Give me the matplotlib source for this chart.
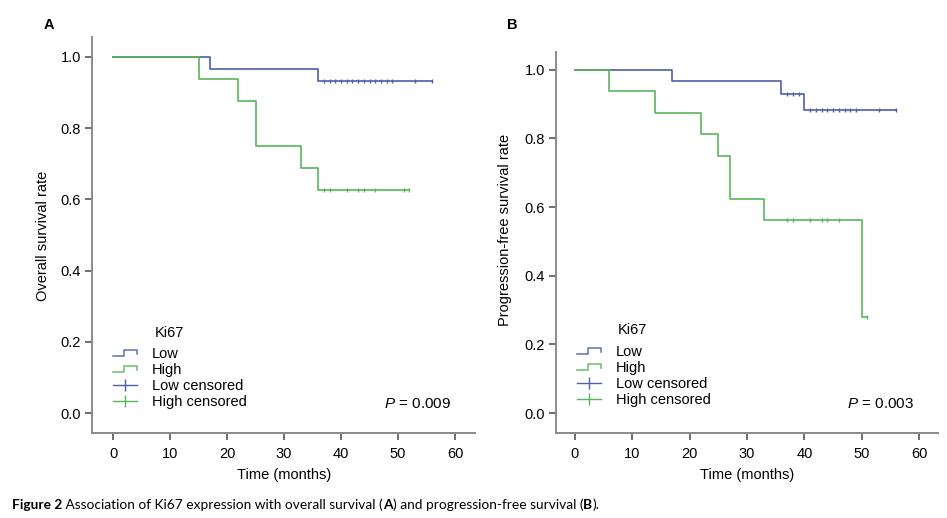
import numpy as np
import matplotlib
matplotlib.use("Agg")
import matplotlib.pyplot as plt
from matplotlib.lines import Line2D
from matplotlib.legend_handler import HandlerBase

plt.rcParams['font.family'] = ['Liberation Sans', 'DejaVu Sans']
plt.rcParams['mathtext.fontset'] = 'custom'
plt.rcParams['mathtext.it'] = 'Liberation Sans:italic'
plt.rcParams['mathtext.rm'] = 'Liberation Sans'

# ---------------- data ----------------
# Panel A: overall survival
a_low_t = [0, 17, 36, 56]
a_low_s = [1.0, 0.9667, 0.9333, 0.9333]
a_low_cens = [37, 38, 39, 40, 41, 42, 43, 44, 45, 46, 47, 48, 49, 53, 56]
a_high_t = [0, 15, 22, 25, 33, 36, 52]
a_high_s = [1.0, 0.9375, 0.875, 0.75, 0.6875, 0.625, 0.625]
a_high_cens = [37, 38, 41, 43, 44, 46, 51, 52]

# Panel B: progression-free survival
b_low_t = [0, 17, 36, 40, 56]
b_low_s = [1.0, 0.9667, 0.93, 0.882, 0.882]
b_low_cens = [37, 38, 39, 41, 42, 43, 44, 45, 46, 47, 48, 49, 53, 56]
b_high_t = [0, 6, 14, 22, 25, 27, 33, 50, 51]
b_high_s = [1.0, 0.9375, 0.875, 0.8125, 0.75, 0.625, 0.5625, 0.28125, 0.28125]
b_high_cens = [37, 38, 41, 43, 44, 46, 51]

x_ticks = [0, 10, 20, 30, 40, 50, 60]
y_ticks = [0.0, 0.2, 0.4, 0.6, 0.8, 1.0]
legend_labels = ["Low", "High", "Low censored", "High censored"]
p_texts = ["0.009", "0.003"]
ylabels = ["Overall survival rate", "Progression-free survival rate"]
panel_letters = ["A", "B"]

BLUE = "#4f5fab"
GREEN = "#5ab55a"
SPINE = "#8a8a8a"

W, H = 947, 518
fig = plt.figure(figsize=(W / 100, H / 100), dpi=100)


def px_axes(x0, x1, y0, y1):
    return fig.add_axes([x0 / W, 1 - y1 / H, (x1 - x0) / W, (y1 - y0) / H])


class StepHandler(HandlerBase):
    def create_artists(self, legend, orig_handle, xdescent, ydescent,
                       width, height, fontsize, trans):
        x = np.array([0, 0.45, 0.45, 1.0, 1.0]) * width - xdescent
        y = np.array([0.2, 0.2, 0.75, 0.75, 0.4]) * height - ydescent
        ln = Line2D(x, y, color=orig_handle.get_color(), lw=1.1,
                    transform=trans, alpha=0.9)
        return [ln]


def surv_at(t_list, s_list, times):
    t = np.asarray(t_list)
    s = np.asarray(s_list)
    idx = np.searchsorted(t, times, side='right') - 1
    return s[idx]


def draw_panel(ax, low_t, low_s, low_c, high_t, high_s, high_c,
               xlim, ylim, leg_anchor, title_pos, p_pos, ptxt):
    ax.step(low_t, low_s, where='post', color=BLUE, lw=1.2)
    ax.step(high_t, high_s, where='post', color=GREEN, lw=1.2)
    ax.plot(low_c, surv_at(low_t, low_s, low_c), ls='none', marker='|',
            ms=3.5, mew=1.0, color=BLUE)
    ax.plot(high_c, surv_at(high_t, high_s, high_c), ls='none', marker='|',
            ms=3.5, mew=1.0, color=GREEN)
    ax.set_xlim(*xlim)
    ax.set_ylim(*ylim)
    ax.set_xticks(x_ticks)
    ax.set_yticks(y_ticks)
    ax.set_yticklabels([f"{v:.1f}" for v in y_ticks])
    for s in ['top', 'right']:
        ax.spines[s].set_visible(False)
    for s in ['left', 'bottom']:
        ax.spines[s].set_color(SPINE)
        ax.spines[s].set_linewidth(1.4)
    ax.tick_params(axis='both', direction='out', length=5, width=1.2,
                   color='#555555', labelsize=10.5, labelcolor='black')
    ax.tick_params(axis='x', pad=5)
    ax.tick_params(axis='y', pad=3)

    h_low = Line2D([0], [0], color=BLUE)
    h_high = Line2D([0], [0], color=GREEN)
    h_lc = Line2D([0], [0], color=BLUE, marker='|', ms=9, mew=1.0, lw=1.0)
    h_hc = Line2D([0], [0], color=GREEN, marker='|', ms=9, mew=1.0, lw=1.0)
    ax.legend([h_low, h_high, h_lc, h_hc], legend_labels,
              handler_map={h_low: StepHandler(), h_high: StepHandler()},
              loc='upper left', bbox_to_anchor=leg_anchor,
              frameon=False, fontsize=10.5, borderpad=0,
              borderaxespad=0, handlelength=1.65, handletextpad=1.0,
              labelspacing=0.14, numpoints=1)
    ax.text(title_pos[0], title_pos[1], "Ki67", transform=ax.transAxes,
            fontsize=10.5, ha='left', va='center')
    ax.text(p_pos[0], p_pos[1], r"$\it{P}$" + " = " + ptxt,
            transform=ax.transAxes, fontsize=11, ha='left', va='center')


axA = px_axes(92, 475, 37, 433)
draw_panel(axA, a_low_t, a_low_s, a_low_cens, a_high_t, a_high_s, a_high_cens,
           (-3.7, 63.5), (-0.056, 1.056), (0.055, 0.217), (0.164, 0.253),
           (0.763, 0.073), p_texts[0])

axB = px_axes(556, 938, 52, 433)
draw_panel(axB, b_low_t, b_low_s, b_low_cens, b_high_t, b_high_s, b_high_cens,
           (-3.3, 63.3), (-0.058, 1.052), (0.055, 0.231), (0.1615, 0.271),
           (0.762, 0.076), p_texts[1])

# axis labels
fig.text(284 / W, 1 - 475 / H, "Time (months)", ha='center', va='center', fontsize=10.5)
fig.text(747 / W, 1 - 475 / H, "Time (months)", ha='center', va='center', fontsize=10.5)
fig.text(43 / W, 1 - 236 / H, ylabels[0], rotation=90, ha='center', va='center', fontsize=10.5)
fig.text(505 / W, 1 - 230 / H, ylabels[1], rotation=90, ha='center', va='center', fontsize=10.5)

# panel letters
fig.text(49 / W, 1 - 25 / H, panel_letters[0], ha='center', va='center',
         fontsize=10.5, fontweight='bold')
fig.text(512 / W, 1 - 25 / H, panel_letters[1], ha='center', va='center',
         fontsize=10.5, fontweight='bold')

# caption
cap_font = ['Lato', 'DejaVu Sans']
cap_size = 9.9
t1 = fig.text(12 / W, 1 - 505 / H, "Figure 2", ha='left', va='center',
              fontsize=cap_size, fontweight='bold', family=cap_font)
fig.canvas.draw()
x = t1.get_window_extent().x1 / W
parts = [(" Association of Ki67 expression with overall survival (", 'normal'),
         ("A", 'bold'),
         (") and progression-free survival (", 'normal'),
         ("B", 'bold'),
         (").", 'normal')]
for txt, wt in parts:
    t = fig.text(x, 1 - 505 / H, txt, ha='left', va='center', fontsize=cap_size,
                 fontweight=wt, family=cap_font)
    fig.canvas.draw()
    x = t.get_window_extent().x1 / W

fig.savefig("out.png", dpi=100)
